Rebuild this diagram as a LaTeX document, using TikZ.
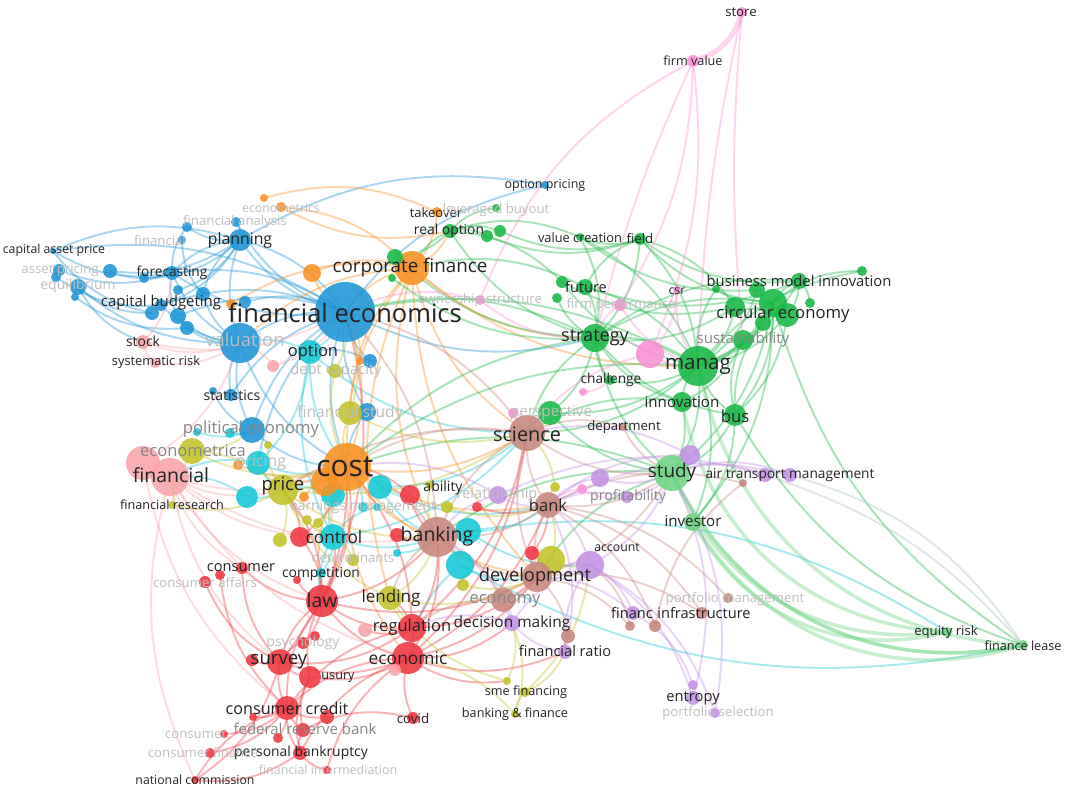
\documentclass[tikz,border=0pt]{standalone}
\usepackage{fontspec}
\setmainfont{Open Sans}
\usepackage{xcolor}
\usetikzlibrary{backgrounds}

\definecolor{cBlue}{RGB}{30,150,215}
\definecolor{cCyan}{RGB}{20,200,215}
\definecolor{cGreen}{RGB}{25,185,70}
\definecolor{cLgreen}{RGB}{110,215,130}
\definecolor{cOrange}{RGB}{250,145,35}
\definecolor{cRed}{RGB}{240,55,65}
\definecolor{cRose}{RGB}{250,165,170}
\definecolor{cOlive}{RGB}{195,195,40}
\definecolor{cBrown}{RGB}{200,135,125}
\definecolor{cPurple}{RGB}{195,145,230}
\definecolor{cPink}{RGB}{250,145,215}
\definecolor{cGray}{RGB}{170,195,195}
\definecolor{cDark}{RGB}{35,35,35}
\definecolor{cMid}{RGB}{135,135,135}
\definecolor{cFade}{RGB}{190,190,190}

\tikzset{
  vn/.style 2 args={circle, inner sep=0pt, minimum size=#2*0.4mm, fill=#1, fill opacity=0.88},
  lb/.style={inner sep=0pt, text=cDark, font=\fontsize{#1pt}{#1pt}\selectfont},
  lf/.style={lb=#1, text=cFade},
  lm/.style={lb=#1, text=cMid},
  ed/.style={draw=#1, line width=1.1pt, draw opacity=0.38},
}

\begin{document}
\begin{tikzpicture}[x=0.02cm, y=-0.02cm]
\useasboundingbox (0,0) rectangle (1065,790);

% blue cluster
\node[vn={cBlue}{30}] (fe) at (345,312) {};
\node[vn={cBlue}{20}] (val) at (240,343) {};
\node[vn={cBlue}{11}] (plan) at (240,240) {};
\node[vn={cBlue}{5}] (fa1) at (236,222) {};
\node[vn={cBlue}{5}] (fa2) at (187,227) {};
\node[vn={cBlue}{4}] (fn) at (182,240) {};
\node[vn={cBlue}{3}] (capa) at (53,251) {};
\node[vn={cBlue}{6}] (ap1) at (59,270) {};
\node[vn={cBlue}{5}] (ap2) at (56,277) {};
\node[vn={cBlue}{8}] (eq) at (78,287) {};
\node[vn={cBlue}{4}] (eq2) at (75,297) {};
\node[vn={cBlue}{7}] (b1) at (110,271) {};
\node[vn={cBlue}{5}] (b2) at (144,278) {};
\node[vn={cBlue}{7}] (fore) at (172,273) {};
\node[vn={cBlue}{5}] (b3) at (178,290) {};
\node[vn={cBlue}{7}] (b4) at (203,294) {};
\node[vn={cBlue}{7}] (b5) at (152,313) {};
\node[vn={cBlue}{6}] (capb) at (161,305) {};
\node[vn={cBlue}{8}] (b7) at (178,316) {};
\node[vn={cBlue}{7}] (b8) at (187,328) {};
\node[vn={cBlue}{6}] (b9) at (245,302) {};
\node[vn={cBlue}{4}] (stat1) at (213,391) {};
\node[vn={cBlue}{6}] (stat2) at (231,395) {};
\node[vn={cBlue}{13}] (pe) at (252,430) {};
\node[vn={cBlue}{4}] (oppr) at (545,185) {};
\node[vn={cBlue}{7}] (b10) at (370,361) {};
\node[vn={cBlue}{9}] (b11) at (367,412) {};

% cyan cluster
\node[vn={cCyan}{12}] (opt) at (310,352) {};
\node[vn={cCyan}{12}] (cy1) at (258,463) {};
\node[vn={cCyan}{11}] (cy2) at (247,497) {};
\node[vn={cCyan}{5}] (cy3) at (230,433) {};
\node[vn={cCyan}{4}] (cy4) at (197,432) {};
\node[vn={cCyan}{12}] (cy5) at (380,487) {};
\node[vn={cCyan}{12}] (cy6) at (333,495) {};
\node[vn={cCyan}{13}] (ctrl) at (333,537) {};
\node[vn={cCyan}{5}] (cy7) at (363,507) {};
\node[vn={cCyan}{4}] (cy8) at (377,507) {};
\node[vn={cCyan}{13}] (cy9) at (468,531) {};
\node[vn={cCyan}{14}] (cy10) at (460,565) {};
\node[vn={cCyan}{4}] (cy11) at (397,553) {};
\node[vn={cCyan}{5}] (comp) at (321,573) {};

% orange cluster
\node[vn={cOrange}{17}] (cf) at (412,268) {};
\node[vn={cOrange}{14}] (or6) at (325,482) {};
\node[vn={cOrange}{24}] (cost) at (347,467) {};
\node[vn={cOrange}{5}] (tko) at (437,212) {};
\node[vn={cOrange}{4}] (ecm1) at (264,198) {};
\node[vn={cOrange}{5}] (ecm2) at (281,207) {};
\node[vn={cOrange}{5}] (or1) at (231,304) {};
\node[vn={cOrange}{9}] (or3) at (312,273) {};
\node[vn={cOrange}{5}] (prc) at (238,465) {};
\node[vn={cOrange}{5}] (or4) at (304,497) {};
\node[vn={cOrange}{4}] (or5) at (360,361) {};

% olive cluster
\node[vn={cOlive}{13}] (ecmca) at (192,451) {};
\node[vn={cOlive}{15}] (price) at (283,490) {};
\node[vn={cOlive}{4}] (ol1) at (268,445) {};
\node[vn={cOlive}{7}] (ol2) at (280,540) {};
\node[vn={cOlive}{5}] (ol3) at (307,520) {};
\node[vn={cOlive}{5}] (ol4) at (318,523) {};
\node[vn={cOlive}{6}] (ol5) at (353,560) {};
\node[vn={cOlive}{7}] (dcap) at (335,371) {};
\node[vn={cOlive}{12}] (fstud) at (350,413) {};
\node[vn={cOlive}{4}] (ab) at (430,485) {};
\node[vn={cOlive}{6}] (ol7) at (447,507) {};
\node[vn={cOlive}{12}] (lend) at (390,598) {};
\node[vn={cOlive}{6}] (ol8) at (463,585) {};
\node[vn={cOlive}{14}] (ol9) at (551,560) {};
\node[vn={cOlive}{5}] (ol10) at (555,487) {};
\node[vn={cOlive}{4}] (frr) at (172,505) {};
\node[vn={cOlive}{4}] (sme1) at (507,681) {};
\node[vn={cOlive}{5}] (sme2) at (525,692) {};
\node[vn={cOlive}{4}] (bf) at (515,714) {};

% red cluster
\node[vn={cRed}{16}] (law) at (322,601) {};
\node[vn={cRed}{14}] (reg) at (412,628) {};
\node[vn={cRed}{16}] (econ) at (408,658) {};
\node[vn={cRed}{13}] (surv) at (280,662) {};
\node[vn={cRed}{6}] (rd1) at (252,660) {};
\node[vn={cRed}{11}] (usury) at (310,677) {};
\node[vn={cRed}{12}] (cc) at (287,708) {};
\node[vn={cRed}{7}] (rd2) at (327,717) {};
\node[vn={cRed}{4}] (rd3) at (253,717) {};
\node[vn={cRed}{7}] (frb) at (303,730) {};
\node[vn={cRed}{5}] (rd4) at (278,738) {};
\node[vn={cRed}{7}] (pb) at (300,753) {};
\node[vn={cRed}{4}] (fi) at (327,770) {};
\node[vn={cRed}{4}] (nc) at (195,780) {};
\node[vn={cRed}{5}] (cfin) at (210,753) {};
\node[vn={cRed}{4}] (rd5) at (224,734) {};
\node[vn={cRed}{6}] (psy1) at (303,643) {};
\node[vn={cRed}{5}] (psy2) at (315,636) {};
\node[vn={cRed}{6}] (covid) at (413,718) {};
\node[vn={cRed}{6}] (cons) at (242,568) {};
\node[vn={cRed}{5}] (rd6) at (220,575) {};
\node[vn={cRed}{6}] (rd7) at (205,582) {};
\node[vn={cRed}{10}] (rd8) at (300,537) {};
\node[vn={cRed}{10}] (rd9) at (410,495) {};
\node[vn={cRed}{7}] (rd10) at (397,535) {};
\node[vn={cRed}{5}] (rd11) at (477,507) {};
\node[vn={cRed}{7}] (rd12) at (532,553) {};
\node[vn={cRed}{4}] (rd13) at (297,580) {};
\node[vn={cRose}{7}] (rd14) at (365,630) {};
\node[vn={cRose}{6}] (rd15) at (395,670) {};

% rose nodes
\node[vn={cRose}{17}] (fin1) at (143,463) {};
\node[vn={cRose}{19}] (fin) at (170,477) {};
\node[vn={cRose}{7}] (stock) at (143,342) {};
\node[vn={cRose}{5}] (sysr) at (155,363) {};
\node[vn={cRose}{6}] (pk1) at (273,366) {};

% brown cluster
\node[vn={cBrown}{18}] (sci) at (527,433) {};
\node[vn={cBrown}{20}] (bank) at (437,537) {};
\node[vn={cBrown}{13}] (bk) at (548,505) {};
\node[vn={cBrown}{15}] (dev) at (537,577) {};
\node[vn={cBrown}{12}] (eco) at (503,600) {};
\node[vn={cBrown}{4}] (dept) at (623,427) {};
\node[vn={cBrown}{7}] (br1) at (568,636) {};
\node[vn={cBrown}{5}] (br2) at (630,626) {};
\node[vn={cBrown}{6}] (br3) at (655,626) {};
\node[vn={cBrown}{6}] (br4) at (702,613) {};
\node[vn={cBrown}{5}] (br5) at (728,598) {};
\node[vn={cBrown}{4}] (br7) at (743,483) {};

% green cluster
\node[vn={cGreen}{20}] (mng) at (698,366) {};
\node[vn={cGreen}{14}] (strat) at (595,338) {};
\node[vn={cGreen}{10}] (c1) at (735,307) {};
\node[vn={cGreen}{8}] (c2) at (757,290) {};
\node[vn={cGreen}{14}] (c3) at (773,303) {};
\node[vn={cGreen}{12}] (c4) at (787,315) {};
\node[vn={cGreen}{8}] (c5) at (763,323) {};
\node[vn={cGreen}{8}] (bmi) at (799,281) {};
\node[vn={cGreen}{5}] (c6) at (810,303) {};
\node[vn={cGreen}{5}] (c7) at (862,271) {};
\node[vn={cGreen}{4}] (c8) at (716,289) {};
\node[vn={cGreen}{10}] (sust) at (743,340) {};
\node[vn={cGreen}{10}] (innov) at (682,402) {};
\node[vn={cGreen}{11}] (bus) at (735,415) {};
\node[vn={cGreen}{5}] (chal) at (610,380) {};
\node[vn={cGreen}{6}] (fut1) at (562,282) {};
\node[vn={cGreen}{8}] (fut2) at (585,287) {};
\node[vn={cGreen}{5}] (fut3) at (557,298) {};
\node[vn={cGreen}{4}] (vc) at (580,237) {};
\node[vn={cGreen}{6}] (field) at (640,239) {};
\node[vn={cGreen}{7}] (ro) at (450,231) {};
\node[vn={cGreen}{6}] (g1) at (487,236) {};
\node[vn={cGreen}{6}] (g2) at (500,231) {};
\node[vn={cGreen}{4}] (lbo) at (496,208) {};
\node[vn={cGreen}{8}] (cfg1) at (395,257) {};
\node[vn={cGreen}{4}] (cfg2) at (392,278) {};
\node[vn={cGreen}{12}] (persp) at (550,413) {};
\node[vn={cLgreen}{18}] (study) at (672,473) {};
\node[vn={cLgreen}{9}] (inv) at (693,522) {};
\node[vn={cLgreen}{5}] (eqr) at (947,632) {};
\node[vn={cLgreen}{5}] (fl) at (1023,645) {};

% pink cluster
\node[vn={cPink}{5}] (store) at (742,12) {};
\node[vn={cPink}{6}] (fv) at (693,61) {};
\node[vn={cPink}{6}] (fp) at (620,305) {};
\node[vn={cPink}{5}] (os) at (480,300) {};
\node[vn={cPink}{14}] (pkb) at (650,354) {};
\node[vn={cPink}{4}] (csr) at (677,290) {};
\node[vn={cPink}{4}] (pkc) at (583,392) {};
\node[vn={cPink}{5}] (pkp) at (582,489) {};
\node[vn={cPink}{5}] (pks) at (513,413) {};

% purple cluster
\node[vn={cPurple}{9}] (rel) at (498,495) {};
\node[vn={cPurple}{9}] (pu1) at (600,478) {};
\node[vn={cPurple}{6}] (prof) at (627,497) {};
\node[vn={cPurple}{14}] (acc) at (590,565) {};
\node[vn={cPurple}{8}] (dm) at (512,623) {};
\node[vn={cPurple}{7}] (fr) at (565,652) {};
\node[vn={cPurple}{7}] (finc) at (633,613) {};
\node[vn={cPurple}{7}] (ent) at (693,698) {};
\node[vn={cPurple}{5}] (ent2) at (693,685) {};
\node[vn={cPurple}{5}] (ps) at (715,713) {};
\node[vn={cPurple}{7}] (air1) at (765,475) {};
\node[vn={cPurple}{7}] (air2) at (790,475) {};
\node[vn={cPurple}{10}] (pu2) at (690,455) {};

% links
\begin{scope}[on background layer]
\fill[white] (0,0) rectangle (1065,790);
\foreach \a/\b in {fe/val, fe/plan, fe/fore, fe/capb, fe/b7, fe/pe, fe/stat2, fe/b9, fe/b10, fe/b11, oppr/plan, plan/capa, fe/capa, plan/val, plan/fore, plan/b4, plan/fa1, fa2/plan, fn/b4, eq/val, capa/b5, ap1/fore, b1/fore, eq/b5, ap2/capb, eq2/b8, fore/b7, fore/val, b4/val, b7/val, b8/val, capb/val, val/stat2, stat1/pe, val/pe, b2/plan, b3/plan, capb/plan, fe/cost, val/cost, pe/cost, fe/cy1, b11/cost, b10/opt, plan/fe, fe/strat, oppr/fe, b1/plan, capa/fore, fa1/fe, eq/stock, fore/fe, fa2/fore}
  \draw[ed=cBlue] (\a.center) to[bend right=20] (\b.center);
\foreach \a/\b in {opt/fe, opt/ctrl, opt/cost, cy1/opt, cy1/price, cy2/price, cy1/cost, cy5/cost, cy6/ctrl, ctrl/bank, cy9/bank, cy10/bank, cy10/dev, cy9/bk, cy5/bank, comp/ctrl, comp/law, cy3/pe, cy4/pe, cy7/cost, cy8/ctrl, cy11/bank, cy10/fl, eqr/cy9, ctrl/sci, opt/sci, cy5/bk, cy2/fin, cy1/fin, opt/val, cy9/acc, cy10/econ, ctrl/law, cy5/sci, cy6/price}
  \draw[ed=cCyan] (\a.center) to[bend right=20] (\b.center);
\foreach \a/\b in {cf/cost, cost/fe, cf/tko, tko/ecm1, cf/ecm2, cf/or1, cf/or3, cost/price, cost/ctrl, cost/bank, cost/sci, cost/dev, cost/or4, prc/cost, cf/sci, cf/strat, cf/bank, cf/dev, cost/bk, cf/fstud, cf/ro, cf/lend, or5/fe, or6/price, cf/mng, cost/econ, cf/val, ecm2/ro, cf/fe, or3/fe, cost/law}
  \draw[ed=cOrange] (\a.center) to[bend right=20] (\b.center);
\foreach \a/\b in {mng/strat, mng/c1, mng/c2, mng/c3, mng/c4, mng/c5, mng/bmi, mng/sust, mng/innov, mng/bus, study/mng, mng/fut2, mng/field, mng/vc, persp/mng, chal/mng, strat/fut2, strat/field, strat/vc, ro/strat, persp/strat, strat/chal, strat/innov, strat/bus, strat/study, strat/c1, c1/c3, c2/c3, bmi/c3, c4/bmi, c6/bmi, c7/c3, sust/c3, bus/c3, bus/c4, innov/sust, study/innov, study/bus, field/c3, c1/field, vc/ro, g1/ro, g2/ro, fut1/ro, cfg1/strat, cfg1/ro, lbo/ro, persp/study, inv/mng, inv/bus, fut1/c1, vc/c2, field/bmi, fut2/bmi, fut3/strat, c8/c3, c8/mng, sci/mng, innov/sci, strat/cost, strat/sci, mng/cost, study/cost, strat/fe, mng/fe, study/bank, study/dev, fut2/cf, ro/cf, c3/strat, bmi/strat, c7/mng, g2/field, field/fut2, c5/bus, sust/bus, inv/c3, study/c3, persp/sci, g1/field, vc/field, fut1/mng, cfg2/strat, bus/fl, c3/fl}
  \draw[ed=cGreen] (\a.center) to[bend right=20] (\b.center);
\foreach \a/\b in {study/fl, study/eqr, inv/fl, inv/eqr, mng/fl, innov/eqr, study/fl}
  \draw[ed=cLgreen, line width=2pt] (\a.center) to[bend right=38] (\b.center);
\foreach \a/\b in {law/surv, law/reg, law/econ, law/cc, law/usury, law/ctrl, law/bank, law/rd8, surv/cc, surv/usury, rd1/surv, cc/frb, cc/pb, cc/nc, cc/rd2, rd3/cc, cfin/cc, econ/reg, econ/covid, econ/cc, econ/pb, econ/fi, surv/econ, usury/econ, econ/bank, reg/bank, reg/lend, reg/cc, surv/reg, reg/dev, econ/dev, econ/dm, econ/fr, econ/sme1, usury/pb, usury/frb, frb/pb, pb/fi, nc/surv, cons/law, cons/surv, rd6/cc, rd7/surv, psy1/law, psy2/surv, rd8/price, rd8/cost, rd9/cost, rd9/bank, rd10/bank, rd11/bk, rd12/dev, law/cost, reg/cost, econ/sci, surv/cost, law/price, rd5/cc, rd4/cc, rd13/law, rd14/reg, rd15/econ, covid/frb, nc/pb, law/dev, reg/sci, econ/bk, rd12/bk, law/fe}
  \draw[ed=cRed] (\a.center) to[bend right=20] (\b.center);
\foreach \a/\b in {fin/ecmca, fin/price, fin/cost, fin/law, fin/surv, fin/nc, fin/cons, stock/sysr, stock/val, stock/fe, pk1/fe, fin/bank, fin/econ, fin1/val, fin1/cc, fin/ctrl, sysr/val, pk1/val, stock/fore}
  \draw[ed=cRose] (\a.center) to[bend right=20] (\b.center);
\foreach \a/\b in {price/cost, price/ecmca, price/lend, price/ctrl, lend/bank, lend/reg, lend/dev, lend/sme1, sme2/bf, sme2/fr, sme1/dm, bf/dm, ol9/dev, ol9/bk, fstud/cost, fstud/fe, dcap/fe, dcap/cost, ol5/ctrl, frr/fin, frr/price, ab/bank, ol7/bk, ol10/bk, ol10/sci, price/bank, ol2/price, ol3/ctrl, ol4/cost, ol1/price, ol8/dev, ecmca/pe, ecmca/cost, sme2/acc, bf/econ, price/sci, ol9/acc, fstud/sci}
  \draw[ed=cOlive] (\a.center) to[bend right=20] (\b.center);
\foreach \a/\b in {sci/bank, sci/bk, sci/dev, bank/bk, bank/dev, bk/dev, eco/dev, eco/bank, dept/sci, dept/study, br1/dev, br2/dev, br3/bk, br4/dev, br5/bk, br7/bk, br7/br3, sci/study, bk/study, dev/study, sci/cost, bank/cost, sci/fe, bank/fe, eco/reg, br1/fr, br4/bk, br2/acc, sci/price, bank/lend}
  \draw[ed=cBrown] (\a.center) to[bend right=20] (\b.center);
\foreach \a/\b in {acc/dev, acc/bk, acc/dm, acc/fr, ent/acc, ps/acc, dm/fr, dm/eco, rel/bank, rel/bk, air1/rel, air1/study, air2/study, prof/bk, prof/study, pu1/bk, pu1/study, pu2/study, pu2/bk, finc/acc, finc/dev, ent/study, dm/bank, ent2/finc, ps/study, rel/cost, acc/study, air2/bk, pu2/sci, dm/reg, fr/bk}
  \draw[ed=cPurple] (\a.center) to[bend right=20] (\b.center);
\foreach \a/\b in {os/fe, os/strat, fp/strat, fp/mng, pkp/prof, pks/persp, pkc/chal, csr/mng, pkb/mng, pkb/strat, pkb/csr, fv/os, pkb/sci, pkp/bk}
  \draw[ed=cPink] (\a.center) to[bend right=20] (\b.center);
\foreach \a/\b in {fv/fp, fv/pkb}
  \draw[ed=cPink] (\a.center) to[bend left=15] (\b.center);
\foreach \a/\b in {store/mng, store/sust, fv/strat}
  \draw[ed=cPink] (\a.center) to[bend right=5] (\b.center);
\draw[ed=cPink, line width=3pt] (store.center) to[bend left=30] (fv.center);
\draw[ed=cGray] (fl.center) to[bend right=20] (air2.center);
\draw[ed=cGray] (fl.center) to[bend right=15] (air1.center);
\end{scope}

% labels
\node[lb=14.5] (tfe) at (345,313) {financial economics};
\node[lf=10.5] (tval) at (245,340) {valuation};
\node[lb=9] (tplan) at (240,240) {planning};
\node[lf=7.5] (tfa) at (235,222) {financial analysis};
\node[lf=7.5] (tfn) at (160,241) {financial};
\node[lb=7] (tcapa) at (54,250) {capital asset price};
\node[lf=7.5] (tap) at (60,270) {asset pricing};
\node[lf=8] (teq) at (78,286) {equilibrium};
\node[lb=7.8] (tfore) at (172,273) {forecasting};
\node[lb=8.5] (tcapb) at (161,303) {capital budgeting};
\node[lb=7.9] (tstock) at (143,341) {stock};
\node[lb=7.3] (tsysr) at (156,362) {systematic risk};
\node[lb=8] (tstat) at (232,395) {statistics};
\node[lm=9.5] (tpe) at (251,429) {political economy};
\node[lb=9.4] (topt) at (313,352) {option};
\node[lf=8.4] (tdcap) at (336,371) {debt capacity};
\node[lf=8.9] (tfstud) at (350,413) {financial study};
\node[lb=7.1] (toppr) at (545,185) {option pricing};
\node[lb=10.7] (tcf) at (410,268) {corporate finance};
\node[lb=17] (tcost) at (345,467) {cost};
\node[lb=7.4] (ttko) at (436,213) {takeover};
\node[lf=7] (tecm) at (281,208) {econometrics};
\node[lf=9] (tprc) at (261,463) {pricing};
\node[lm=9.4] (tecmca) at (193,451) {econometrica};
\node[lb=11.1] (tfin) at (171,475) {financial};
\node[lb=10.5] (tprice) at (283,486) {price};
\node[lb=7.2] (tfrr) at (172,505) {financial research};
\node[lb=9.8] (tctrl) at (334,537) {control};
\node[lf=7.9] (tearn) at (363,507) {earnings management};
\node[lf=7.5] (tdet) at (353,558) {determinants};
\node[lb=7.9] (tcomp) at (321,574) {competition};
\node[lb=8.3] (tcons) at (241,568) {consumer};
\node[lf=7.5] (tcaff) at (205,583) {consumer affairs};
\node[lb=11] (tlaw) at (322,600) {law};
\node[lb=9.7] (tlend) at (391,598) {lending};
\node[lb=9.4] (treg) at (412,627) {regulation};
\node[lb=9.9] (tecon) at (408,658) {economic};
\node[lb=10.6] (tsurv) at (279,662) {survey};
\node[lf=8] (tpsy) at (303,643) {psychology};
\node[lb=7.2] (tusury) at (338,678) {usury};
\node[lb=9.2] (tcc) at (287,708) {consumer credit};
\node[lm=8.5] (tfrb) at (305,729) {federal reserve bank};
\node[lb=7.9] (tpb) at (301,753) {personal bankruptcy};
\node[lf=7.1] (tfi) at (328,770) {financial intermediation};
\node[lb=7] (tnc) at (195,780) {national commission};
\node[lf=7.5] (tcfin) at (203,753) {consumer finance};
\node[lf=7.5] (tcon2) at (196,735) {consumer};
\node[lb=7.6] (tcovid) at (413,718) {covid};
\node[lb=11.3] (tsci) at (527,434) {science};
\node[lb=11.1] (tbank) at (437,536) {banking};
\node[lb=9.4] (tbk) at (548,505) {bank};
\node[lb=10.4] (tdev) at (535,577) {development};
\node[lm=9.4] (teco) at (505,601) {economy};
\node[lf=8.3] (trel) at (497,495) {relationship};
\node[lb=8] (tab) at (443,488) {ability};
\node[lm=8.1] (tprof) at (628,497) {profitability};
\node[lb=7] (tacc) at (617,548) {account};
\node[lb=8.8] (tdm) at (512,623) {decision making};
\node[lb=8.3] (tfr) at (565,651) {financial ratio};
\node[lb=8.3] (tfinc) at (632,613) {financ};
\node[lb=8.3] (tinfra) at (704,613) {infrastructure};
\node[lf=7.5] (tpm) at (735,599) {portfolio management};
\node[lb=7.2] (tsme) at (526,692) {sme financing};
\node[lb=7.2] (tbf) at (515,714) {banking \& finance};
\node[lb=8.4] (tent) at (693,698) {entropy};
\node[lf=7.5] (tps) at (718,713) {portfolio selection};
\node[lb=11.7] (tmng) at (698,366) {manag};
\node[lb=10.3] (tstrat) at (595,338) {strategy};
\node[lb=9.5] (tcirc) at (783,314) {circular economy};
\node[lb=8.4] (tbmi) at (799,281) {business model innovation};
\node[lm=8.6] (tsust) at (743,340) {sustainability};
\node[lb=8.6] (tinnov) at (682,402) {innovation};
\node[lb=9.5] (tbus) at (735,416) {bus};
\node[lb=7] (tcsr) at (677,291) {csr};
\node[lb=7.8] (tchal) at (611,380) {challenge};
\node[lb=7.5] (tdept) at (624,427) {department};
\node[lb=10.7] (tstudy) at (672,473) {study};
\node[lb=8.6] (tinv) at (693,521) {investor};
\node[lb=7.8] (tair) at (790,475) {air transport management};
\node[lb=8.3] (tfut) at (586,287) {future};
\node[lb=7.3] (tvc) at (580,238) {value creation};
\node[lb=7.5] (tfield) at (640,239) {field};
\node[lb=7.9] (tro) at (449,231) {real option};
\node[lf=7.5] (tlbo) at (496,210) {leveraged buyout};
\node[lf=8.7] (tpersp) at (551,413) {perspective};
\node[lf=7.5] (tfp) at (621,305) {firm performance};
\node[lf=7.5] (tos) at (480,300) {ownership structure};
\node[lb=7.5] (teqr) at (946,632) {equity risk};
\node[lb=7.2] (tfl) at (1023,646) {finance lease};
\node[lb=7.5] (tstore) at (741,12) {store};
\node[lb=7.2] (tfv) at (693,61) {firm value};

\end{tikzpicture}
\end{document}
